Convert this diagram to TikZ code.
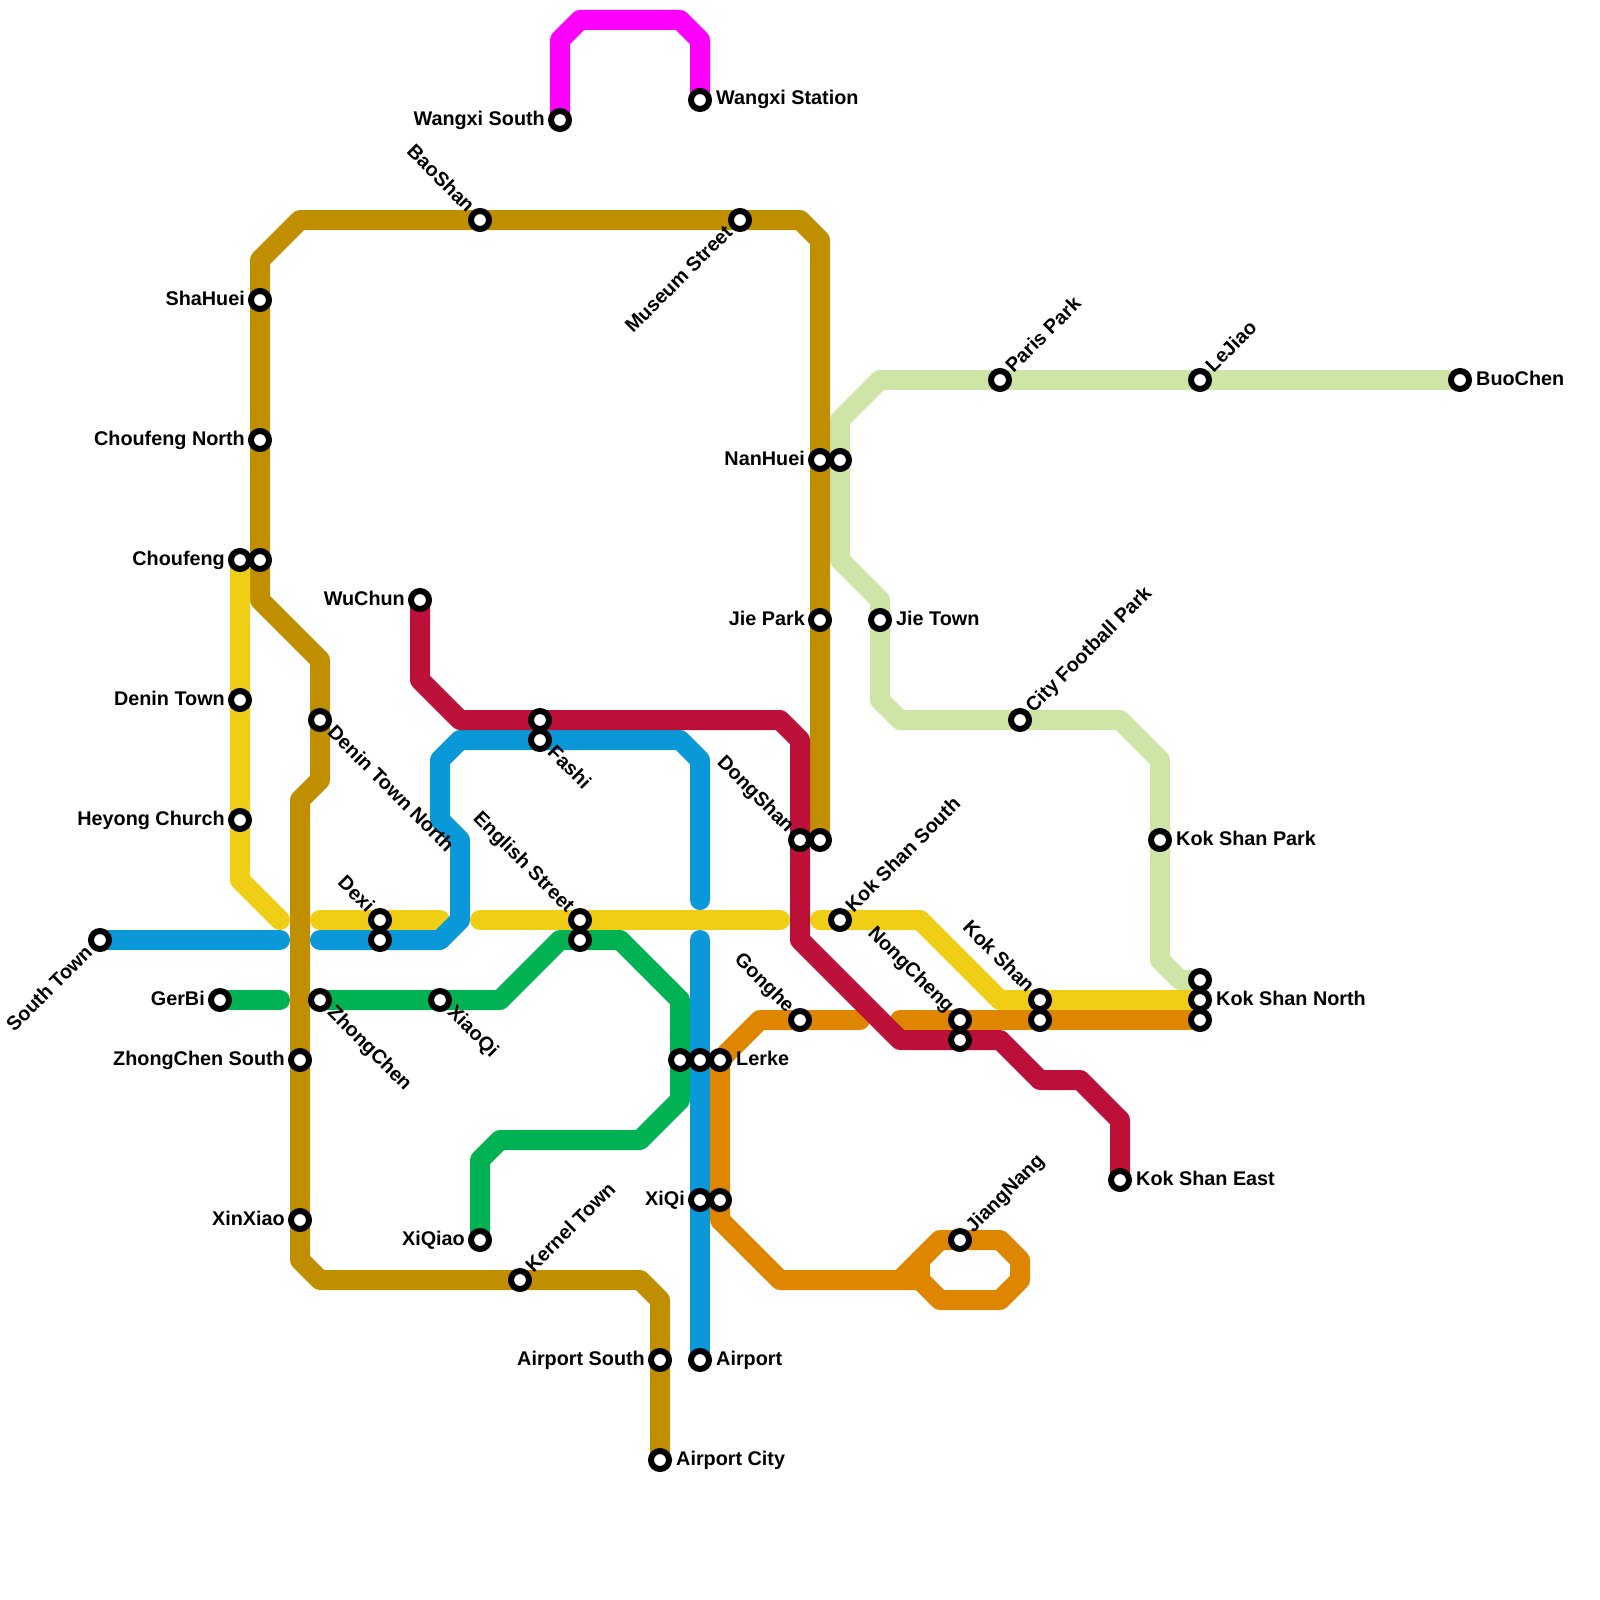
\documentclass[tikz,border=0pt]{standalone}
\usepackage{fontspec}
\setmainfont{Liberation Sans}
\pgfdeclarelayer{lines}
\pgfsetlayers{lines,main}
\definecolor{cBrown}{HTML}{C08F00}
\definecolor{cYellow}{HTML}{F0CE15}
\definecolor{cBlue}{HTML}{0A98D8}
\definecolor{cGreen}{HTML}{00B251}
\definecolor{cRed}{HTML}{BD1038}
\definecolor{cLight}{HTML}{CFE4A7}
\definecolor{cOrange}{HTML}{DF8600}
\definecolor{cMagenta}{HTML}{FF00FF}
\tikzset{
  x=1pt,y=-1pt,
  metro/.style={line width=20pt,line cap=round,line join=round},
  stn/.style={circle,draw=black,fill=white,line width=6pt,minimum size=18pt,inner sep=0pt,outer sep=0pt},
  lbl/.style={font=\fontsize{19.8}{22}\selectfont\bfseries,inner sep=0pt,text height=14pt,text depth=4pt,text=black},
  lR/.style={lbl,anchor=west,xshift=16pt,yshift=0pt},
  lL/.style={lbl,anchor=east,xshift=-15pt,yshift=0pt},
  lUR/.style={lbl,anchor=west,rotate=45,xshift=14pt},
  lDR/.style={lbl,anchor=west,rotate=-45,xshift=14pt},
  lUL/.style={lbl,anchor=east,rotate=-45,xshift=-14pt},
  lDL/.style={lbl,anchor=east,rotate=45,xshift=-14pt},
}
\begin{document}
\begin{tikzpicture}
\useasboundingbox (0,0) rectangle (1600,1600);
% stations
\node[stn] (wangxiS) at (560,120) {};
\node[stn] (wangxi) at (700,100) {};
\node[stn] (baoshan) at (480,220) {};
\node[stn] (museum) at (740,220) {};
\node[stn] (shahuei) at (260,300) {};
\node[stn] (choufengN) at (260,440) {};
\node[stn] (choufeng) at (240,560) {};
\node[stn] (choufengB) at (260,560) {};
\node[stn] (wuchun) at (420,600) {};
\node[stn] (denin) at (240,700) {};
\node[stn] (deninN) at (320,720) {};
\node[stn] (heyong) at (240,820) {};
\node[stn] (fashiR) at (540,720) {};
\node[stn] (fashi) at (540,740) {};
\node[stn] (dexi) at (380,920) {};
\node[stn] (dexiB) at (380,940) {};
\node[stn] (southtown) at (100,940) {};
\node[stn] (gerbi) at (220,1000) {};
\node[stn] (zhongchen) at (320,1000) {};
\node[stn] (xiaoqi) at (440,1000) {};
\node[stn] (zhongchenS) at (300,1060) {};
\node[stn] (xinxiao) at (300,1220) {};
\node[stn] (xiqiao) at (480,1240) {};
\node[stn] (kernel) at (520,1280) {};
\node[stn] (airportS) at (660,1360) {};
\node[stn] (airport) at (700,1360) {};
\node[stn] (airportC) at (660,1460) {};
\node[stn] (english) at (580,920) {};
\node[stn] (englishB) at (580,940) {};
\node[stn] (lerkeG) at (680,1060) {};
\node[stn] (lerkeB) at (700,1060) {};
\node[stn] (lerke) at (720,1060) {};
\node[stn] (xiqi) at (700,1200) {};
\node[stn] (xiqiO) at (720,1200) {};
\node[stn] (dongshan) at (800,840) {};
\node[stn] (dongshanB) at (820,840) {};
\node[stn] (nanhuei) at (820,460) {};
\node[stn] (nanhueiL) at (840,460) {};
\node[stn] (jiepark) at (820,620) {};
\node[stn] (jietown) at (880,620) {};
\node[stn] (kokshanS) at (840,920) {};
\node[stn] (gonghe) at (800,1020) {};
\node[stn] (nong) at (960,1020) {};
\node[stn] (nongR) at (960,1040) {};
\node[stn] (jiang) at (960,1240) {};
\node[stn] (kokshan) at (1040,1000) {};
\node[stn] (kokshanO) at (1040,1020) {};
\node[stn] (ksnL) at (1200,980) {};
\node[stn] (ksn) at (1200,1000) {};
\node[stn] (ksnO) at (1200,1020) {};
\node[stn] (kspark) at (1160,840) {};
\node[stn] (kseast) at (1120,1180) {};
\node[stn] (cityfp) at (1020,720) {};
\node[stn] (paris) at (1000,380) {};
\node[stn] (lejiao) at (1200,380) {};
\node[stn] (buochen) at (1460,380) {};
% free ends of the broken lines
\coordinate (yA) at (280,920);
\coordinate (yB) at (320,920);
\coordinate (yC) at (440,920);
\coordinate (yD) at (480,920);
\coordinate (yE) at (780,920);
\coordinate (yF) at (820,920);
\coordinate (bA) at (280,940);
\coordinate (bB) at (320,940);
\coordinate (bC) at (700,900);
\coordinate (bD) at (700,940);
\coordinate (gA) at (280,1000);
\coordinate (oA) at (860,1020);
\coordinate (oB) at (900,1020);
\coordinate (oC) at (920,1280);
% lines
\begin{pgfonlayer}{lines}
\fill[white] (0,0) rectangle (1600,1600);
\draw[metro,cLight] (buochen.center) -- (lejiao.center) -- (paris.center) -- (880,380) -- (840,420) -- (nanhueiL.center) -- (840,560) -- (880,600) -- (jietown.center) -- (880,700) -- (900,720) -- (cityfp.center) -- (1120,720) -- (1160,760) -- (kspark.center) -- (1160,960) -- (1180,980) -- (ksnL.center);
\draw[metro,cBrown] (airportC.center) -- (airportS.center) -- (660,1300) -- (640,1280) -- (kernel.center) -- (320,1280) -- (300,1260) -- (xinxiao.center) -- (zhongchenS.center) -- (300,800) -- (320,780) -- (deninN.center) -- (320,660) -- (260,600) -- (choufengB.center) -- (choufengN.center) -- (shahuei.center) -- (260,260) -- (300,220) -- (baoshan.center) -- (museum.center) -- (800,220) -- (820,240) -- (nanhuei.center) -- (jiepark.center) -- (dongshanB.center);
\draw[metro,cYellow] (choufeng.center) -- (denin.center) -- (heyong.center) -- (240,880) -- (yA);
\draw[metro,cYellow] (yB) -- (dexi.center) -- (yC);
\draw[metro,cYellow] (yD) -- (english.center) -- (yE);
\draw[metro,cYellow] (yF) -- (kokshanS.center) -- (920,920) -- (1000,1000) -- (kokshan.center) -- (ksn.center);
\draw[metro,cGreen] (gerbi.center) -- (gA);
\draw[metro,cGreen] (zhongchen.center) -- (xiaoqi.center) -- (500,1000) -- (560,940) -- (englishB.center) -- (620,940) -- (680,1000) -- (lerkeG.center) -- (680,1100) -- (640,1140) -- (500,1140) -- (480,1160) -- (xiqiao.center);
\draw[metro,cOrange] (oA) -- (gonghe.center) -- (760,1020) -- (lerke.center) -- (xiqiO.center) -- (720,1220) -- (780,1280) -- (oC) -- (940,1300) -- (1000,1300) -- (1020,1280) -- (1020,1260) -- (1000,1240) -- (jiang.center) -- (940,1240) -- (900,1280);
\draw[metro,cOrange] (920,1260) -- (oC);
\draw[metro,cOrange] (oB) -- (nong.center) -- (kokshanO.center) -- (ksnO.center);
\draw[metro,cBlue] (southtown.center) -- (bA);
\draw[metro,cBlue] (bB) -- (dexiB.center) -- (440,940) -- (460,920) -- (460,840) -- (440,820) -- (440,760) -- (460,740) -- (fashi.center) -- (680,740) -- (700,760) -- (bC);
\draw[metro,cBlue] (bD) -- (lerkeB.center) -- (xiqi.center) -- (airport.center);
\draw[metro,cRed] (wuchun.center) -- (420,680) -- (460,720) -- (fashiR.center) -- (780,720) -- (800,740) -- (dongshan.center) -- (800,940) -- (900,1040) -- (nongR.center) -- (1000,1040) -- (1040,1080) -- (1080,1080) -- (1120,1120) -- (kseast.center);
\draw[metro,cMagenta] (wangxiS.center) -- (560,40) -- (580,20) -- (680,20) -- (700,40) -- (wangxi.center);
\end{pgfonlayer}
% labels
\node[lL] (t1) at (wangxiS) {Wangxi South};
\node[lR] (t2) at (wangxi) {Wangxi Station};
\node[lUL] (t3) at (baoshan) {BaoShan};
\node[lDL] (t4) at (museum) {Museum Street};
\node[lL] (t5) at (shahuei) {ShaHuei};
\node[lL] (t6) at (choufengN) {Choufeng North};
\node[lL] (t7) at (choufeng) {Choufeng};
\node[lL] (t8) at (wuchun) {WuChun};
\node[lL] (t9) at (denin) {Denin Town};
\node[lDR] (t10) at (deninN) {Denin Town North};
\node[lL] (t11) at (heyong) {Heyong Church};
\node[lDR] (t12) at (fashi) {Fashi};
\node[lUL] (t13) at (dexi) {Dexi};
\node[lDL] (t14) at (southtown) {South Town};
\node[lL] (t15) at (gerbi) {GerBi};
\node[lDR] (t16) at (zhongchen) {ZhongChen};
\node[lDR] (t17) at (xiaoqi) {XiaoQi};
\node[lL] (t18) at (zhongchenS) {ZhongChen South};
\node[lL] (t19) at (xinxiao) {XinXiao};
\node[lL] (t20) at (xiqiao) {XiQiao};
\node[lUR] (t21) at (kernel) {Kernel Town};
\node[lL] (t22) at (airportS) {Airport South};
\node[lR] (t23) at (airport) {Airport};
\node[lR] (t24) at (airportC) {Airport City};
\node[lUL] (t25) at (english) {English Street};
\node[lR] (t26) at (lerke) {Lerke};
\node[lL] (t27) at (xiqi) {XiQi};
\node[lUL] (t28) at (dongshan) {DongShan};
\node[lL] (t29) at (nanhuei) {NanHuei};
\node[lL] (t30) at (jiepark) {Jie Park};
\node[lR] (t31) at (jietown) {Jie Town};
\node[lUR] (t32) at (kokshanS) {Kok Shan South};
\node[lUL] (t33) at (gonghe) {Gonghe};
\node[lUL] (t34) at (nong) {NongCheng};
\node[lUR] (t35) at (jiang) {JiangNang};
\node[lUL] (t36) at (kokshan) {Kok Shan};
\node[lR] (t37) at (ksn) {Kok Shan North};
\node[lR] (t38) at (kspark) {Kok Shan Park};
\node[lR] (t39) at (kseast) {Kok Shan East};
\node[lUR] (t40) at (cityfp) {City Football Park};
\node[lUR] (t41) at (paris) {Paris Park};
\node[lUR] (t42) at (lejiao) {LeJiao};
\node[lR] (t43) at (buochen) {BuoChen};
\end{tikzpicture}
\end{document}
